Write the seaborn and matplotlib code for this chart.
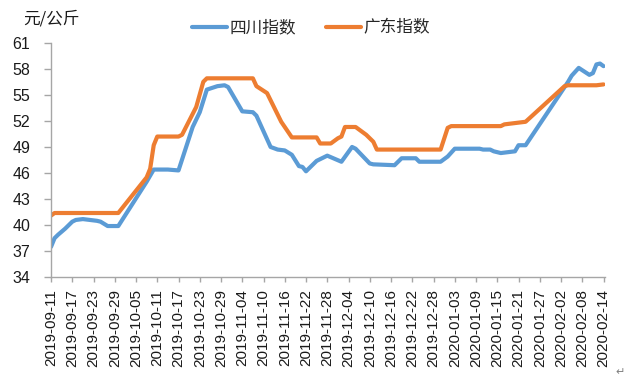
import matplotlib
matplotlib.use("Agg")
import matplotlib.pyplot as plt
import seaborn as sns
import pandas as pd
import numpy as np

# ---- data ----
sichuan_dates = ["2019-09-11", "2019-09-12", "2019-09-13", "2019-09-15", "2019-09-17", "2019-09-18",
                 "2019-09-20", "2019-09-24", "2019-09-25", "2019-09-27", "2019-09-30", "2019-10-08",
                 "2019-10-10", "2019-10-14", "2019-10-17", "2019-10-21", "2019-10-23", "2019-10-25",
                 "2019-10-28", "2019-10-30", "2019-10-31", "2019-11-02", "2019-11-04", "2019-11-07",
                 "2019-11-08", "2019-11-12", "2019-11-14", "2019-11-16", "2019-11-18", "2019-11-20",
                 "2019-11-21", "2019-11-22", "2019-11-25", "2019-11-27", "2019-11-28", "2019-12-02",
                 "2019-12-05", "2019-12-06", "2019-12-10", "2019-12-11", "2019-12-17", "2019-12-19",
                 "2019-12-23", "2019-12-24", "2019-12-30", "2020-01-01", "2020-01-03", "2020-01-10",
                 "2020-01-11", "2020-01-13", "2020-01-14", "2020-01-16", "2020-01-20", "2020-01-21",
                 "2020-01-23", "2020-02-04", "2020-02-05", "2020-02-07", "2020-02-10", "2020-02-11",
                 "2020-02-12", "2020-02-13", "2020-02-14"]
sichuan_vals = [37.5, 38.5, 38.9, 39.6, 40.4, 40.6,
                40.7, 40.5, 40.4, 39.9, 39.9, 45.0,
                46.4, 46.4, 46.3, 51.3, 53.0, 55.6,
                56.0, 56.1, 55.9, 54.5, 53.1, 53.0,
                52.6, 49.0, 48.7, 48.6, 48.1, 46.8,
                46.7, 46.2, 47.4, 47.8, 48.0, 47.3,
                49.0, 48.8, 47.1, 47.0, 46.9, 47.7,
                47.7, 47.3, 47.3, 47.9, 48.8, 48.8,
                48.7, 48.7, 48.5, 48.3, 48.5, 49.2,
                49.2, 56.5, 57.2, 58.1, 57.3, 57.5,
                58.5, 58.6, 58.3]

guangdong_dates = ["2019-09-11", "2019-09-12", "2019-09-30", "2019-10-08", "2019-10-09", "2019-10-10",
                   "2019-10-11", "2019-10-17", "2019-10-18", "2019-10-22", "2019-10-24", "2019-10-25",
                   "2019-11-07", "2019-11-08", "2019-11-11", "2019-11-15", "2019-11-18", "2019-11-25",
                   "2019-11-26", "2019-11-29", "2019-12-01", "2019-12-02", "2019-12-03", "2019-12-06",
                   "2019-12-09", "2019-12-11", "2019-12-12", "2019-12-30", "2020-01-01", "2020-01-02",
                   "2020-01-16", "2020-01-17", "2020-01-23", "2020-02-03", "2020-02-04", "2020-02-12",
                   "2020-02-14"]
guangdong_vals = [41.1, 41.4, 41.4, 45.5, 46.5, 49.2,
                  50.2, 50.2, 50.4, 53.6, 56.5, 56.9,
                  56.9, 56.0, 55.2, 51.9, 50.1, 50.1,
                  49.4, 49.4, 50.0, 50.2, 51.3, 51.3,
                  50.4, 49.6, 48.7, 48.7, 51.2, 51.4,
                  51.4, 51.6, 51.9, 56.0, 56.1, 56.1,
                  56.2]

series_names = ["四川指数", "广东指数"]
y_ticks = [34, 37, 40, 43, 46, 49, 52, 55, 58, 61]
unit_label = "元/公斤"

# ---- frame ----
df = pd.concat([
    pd.DataFrame({"date": pd.to_datetime(sichuan_dates), "value": sichuan_vals, "series": series_names[0]}),
    pd.DataFrame({"date": pd.to_datetime(guangdong_dates), "value": guangdong_vals, "series": series_names[1]}),
], ignore_index=True)

sns.set_theme(style="white")
plt.rcParams["font.family"] = ["Liberation Sans", "Noto Sans CJK SC", "DejaVu Sans"]

fig = plt.figure(figsize=(6.33, 3.82), dpi=100)
ax = fig.add_axes([51 / 633, 1 - 277.3 / 382, (605 - 51) / 633, 234.6 / 382])

palette = {series_names[0]: "#5B9BD5", series_names[1]: "#ED7D31"}
sns.lineplot(data=df, x="date", y="value", hue="series", palette=palette,
             linewidth=3.0, ax=ax, legend=True, solid_joinstyle="round", solid_capstyle="round")

start = pd.Timestamp("2019-09-11")
end = pd.Timestamp("2020-02-14")
xt = pd.date_range(start, end, freq="6D")
ax.set_xlim(start, end + pd.Timedelta(hours=10))
ax.set_xticks(xt)
ax.set_xticklabels([d.strftime("%Y-%m-%d") for d in xt], rotation=90, fontsize=11,
                   color="#1a1a1a", family=["Liberation Sans", "DejaVu Sans"])
ax.set_ylim(34, 61)
ax.set_yticks(y_ticks)
ax.set_yticklabels([str(v) for v in y_ticks], fontsize=11.5, color="#1a1a1a",
                   family=["Liberation Sans", "DejaVu Sans"])
ax.set_xlabel("")
ax.set_ylabel("")

for s in ["top", "right"]:
    ax.spines[s].set_visible(False)
for s in ["left", "bottom"]:
    ax.spines[s].set_color("#A6A6A6")
    ax.spines[s].set_linewidth(1.0)
ax.tick_params(axis="x", which="major", direction="out", length=3.5, width=1.0,
               color="#A6A6A6", pad=5, bottom=True)
ax.tick_params(axis="y", which="major", direction="out", length=5, width=1.0,
               color="#A6A6A6", pad=10, left=True)
ax.grid(False)

handles, labels = ax.get_legend_handles_labels()
ax.get_legend().remove()
fig.legend(handles, labels, loc="center", bbox_to_anchor=(311 / 633, 1 - 28 / 382), ncol=2,
           frameon=False, prop={"family": ["Noto Sans CJK SC", "DejaVu Sans"], "size": 12},
           handlelength=2.1, handletextpad=0.15, columnspacing=1.8)
for h in fig.legends[0].get_lines():
    h.set_linewidth(3.0)

fig.text(23 / 633, 1 - 19 / 382, unit_label, ha="left", va="center", fontsize=12,
         color="#1a1a1a", family=["Noto Sans CJK SC", "DejaVu Sans"])
fig.text(620 / 633, 1 - 372 / 382, "↵", ha="center", va="center", fontsize=8,
         color="#808080", family=["DejaVu Sans"])

fig.savefig("out.png", dpi=100)
